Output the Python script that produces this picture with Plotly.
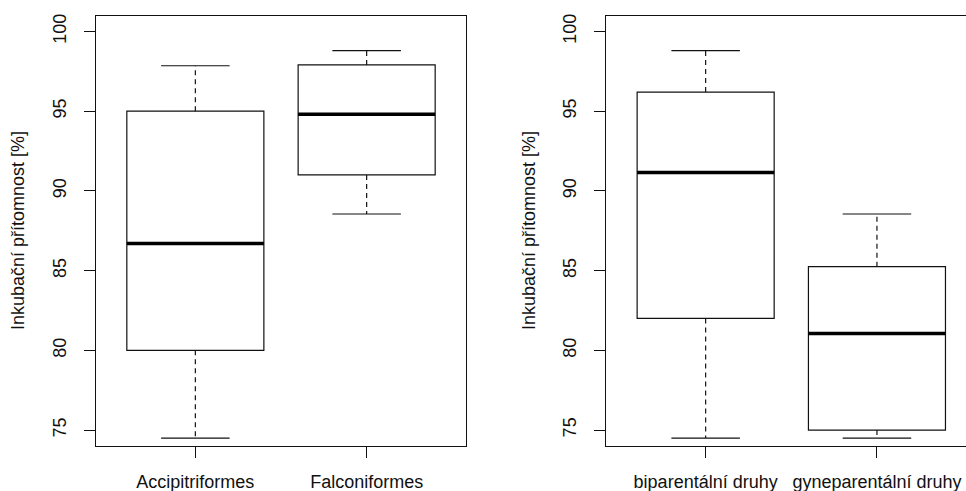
import plotly.graph_objects as go

# ---- data ----
panel1_groups = ["Accipitriformes", "Falconiformes"]
panel1_lower = [74.5, 88.55]
panel1_q1 = [80.0, 91.0]
panel1_median = [86.7, 94.8]
panel1_q3 = [95.0, 97.9]
panel1_upper = [97.85, 98.8]

panel2_groups = ["biparentální druhy", "gyneparentální druhy"]
panel2_lower = [74.5, 74.5]
panel2_q1 = [82.0, 75.0]
panel2_median = [91.15, 81.05]
panel2_q3 = [96.2, 85.25]
panel2_upper = [98.8, 88.55]

y_ticks = [75, 80, 85, 90, 95, 100]
y_title = "Inkubační přítomnost [%]"

W, H = 966, 491
FONT = "Liberation Sans, Arial, sans-serif"
LINE = "#111111"
BOX_W = 0.8
CAP_HALF = 0.2

fig = go.Figure()


def add_panel(groups, lower, q1, med, q3, upper, xa, ya):
    pos = list(range(1, len(groups) + 1))
    for i, p in enumerate(pos):
        fig.add_trace(go.Box(
            x=[p], q1=[q1[i]], median=[med[i]], q3=[q3[i]],
            lowerfence=[q1[i]], upperfence=[q3[i]],
            width=BOX_W, whiskerwidth=0, boxpoints=False,
            fillcolor="white", line=dict(color=LINE, width=1.2),
            xaxis=xa, yaxis=ya, showlegend=False, hoverinfo="skip"))
        # dashed whiskers
        fig.add_trace(go.Scatter(
            x=[p, p, None, p, p], y=[q3[i], upper[i], None, q1[i], lower[i]],
            mode="lines", line=dict(color=LINE, width=1.2, dash="5px,4px"),
            xaxis=xa, yaxis=ya, showlegend=False, hoverinfo="skip"))
        # caps
        fig.add_trace(go.Scatter(
            x=[p - CAP_HALF, p + CAP_HALF, None, p - CAP_HALF, p + CAP_HALF],
            y=[upper[i], upper[i], None, lower[i], lower[i]],
            mode="lines", line=dict(color=LINE, width=1.2),
            xaxis=xa, yaxis=ya, showlegend=False, hoverinfo="skip"))
        # thick median
        fig.add_trace(go.Scatter(
            x=[p - BOX_W / 2, p + BOX_W / 2], y=[med[i], med[i]],
            mode="lines", line=dict(color="black", width=3.5),
            xaxis=xa, yaxis=ya, showlegend=False, hoverinfo="skip"))
    return pos


pos1 = add_panel(panel1_groups, panel1_lower, panel1_q1, panel1_median,
                 panel1_q3, panel1_upper, "x", "y")
pos2 = add_panel(panel2_groups, panel2_lower, panel2_q1, panel2_median,
                 panel2_q3, panel2_upper, "x2", "y2")


def px_x(v):
    return v / W


def px_y(v):
    return 1 - v / H


ydom = [px_y(446), px_y(15.5)]
common_x = dict(showline=True, linecolor=LINE, linewidth=1.2, ticks="outside",
                ticklen=11, tickcolor=LINE, tickwidth=1.2, showgrid=False,
                zeroline=False, tickfont=dict(size=18, color="#111", family=FONT),
                ticklabelstandoff=8, automargin=False)
common_y = dict(showline=True, linecolor=LINE, linewidth=1.2, ticks="outside",
                ticklen=11, tickcolor=LINE, tickwidth=1.2, showgrid=False,
                zeroline=False, tickfont=dict(size=18, color="#111", family=FONT),
                tickvals=y_ticks, tickangle=-90, range=[74, 101],
                domain=ydom, automargin=False, ticklabelstandoff=11)

fig.update_layout(
    width=W, height=H,
    margin=dict(l=0, r=0, t=0, b=0),
    paper_bgcolor="white", plot_bgcolor="white",
    font=dict(family=FONT, size=18, color="#111"),
    xaxis=dict(domain=[px_x(96), px_x(466)], range=[0.42, 2.58], tickvals=pos1,
               ticktext=panel1_groups, mirror=True, anchor="y", **common_x),
    yaxis=dict(anchor="x", mirror=True, **common_y),
    xaxis2=dict(domain=[px_x(606.3), 1.0], range=[0.42, 0.42 + (966 - 606.3) / 171.3],
                tickvals=pos2, ticktext=panel2_groups, mirror=True, anchor="y2",
                **common_x),
    yaxis2=dict(anchor="x2", mirror=False, **common_y),
    annotations=[
        dict(text=y_title, xref="paper", yref="paper", x=px_x(18), y=px_y(231),
             textangle=-90, showarrow=False, xanchor="center", yanchor="middle",
             font=dict(size=18, family=FONT, color="#111")),
        dict(text=y_title, xref="paper", yref="paper", x=px_x(529), y=px_y(231),
             textangle=-90, showarrow=False, xanchor="center", yanchor="middle",
             font=dict(size=18, family=FONT, color="#111")),
    ],
)

fig.write_html(
    "out.html",
    config={"displayModeBar": False},
    post_script="document.body.style.margin='0';document.body.style.overflow='hidden';",
)
